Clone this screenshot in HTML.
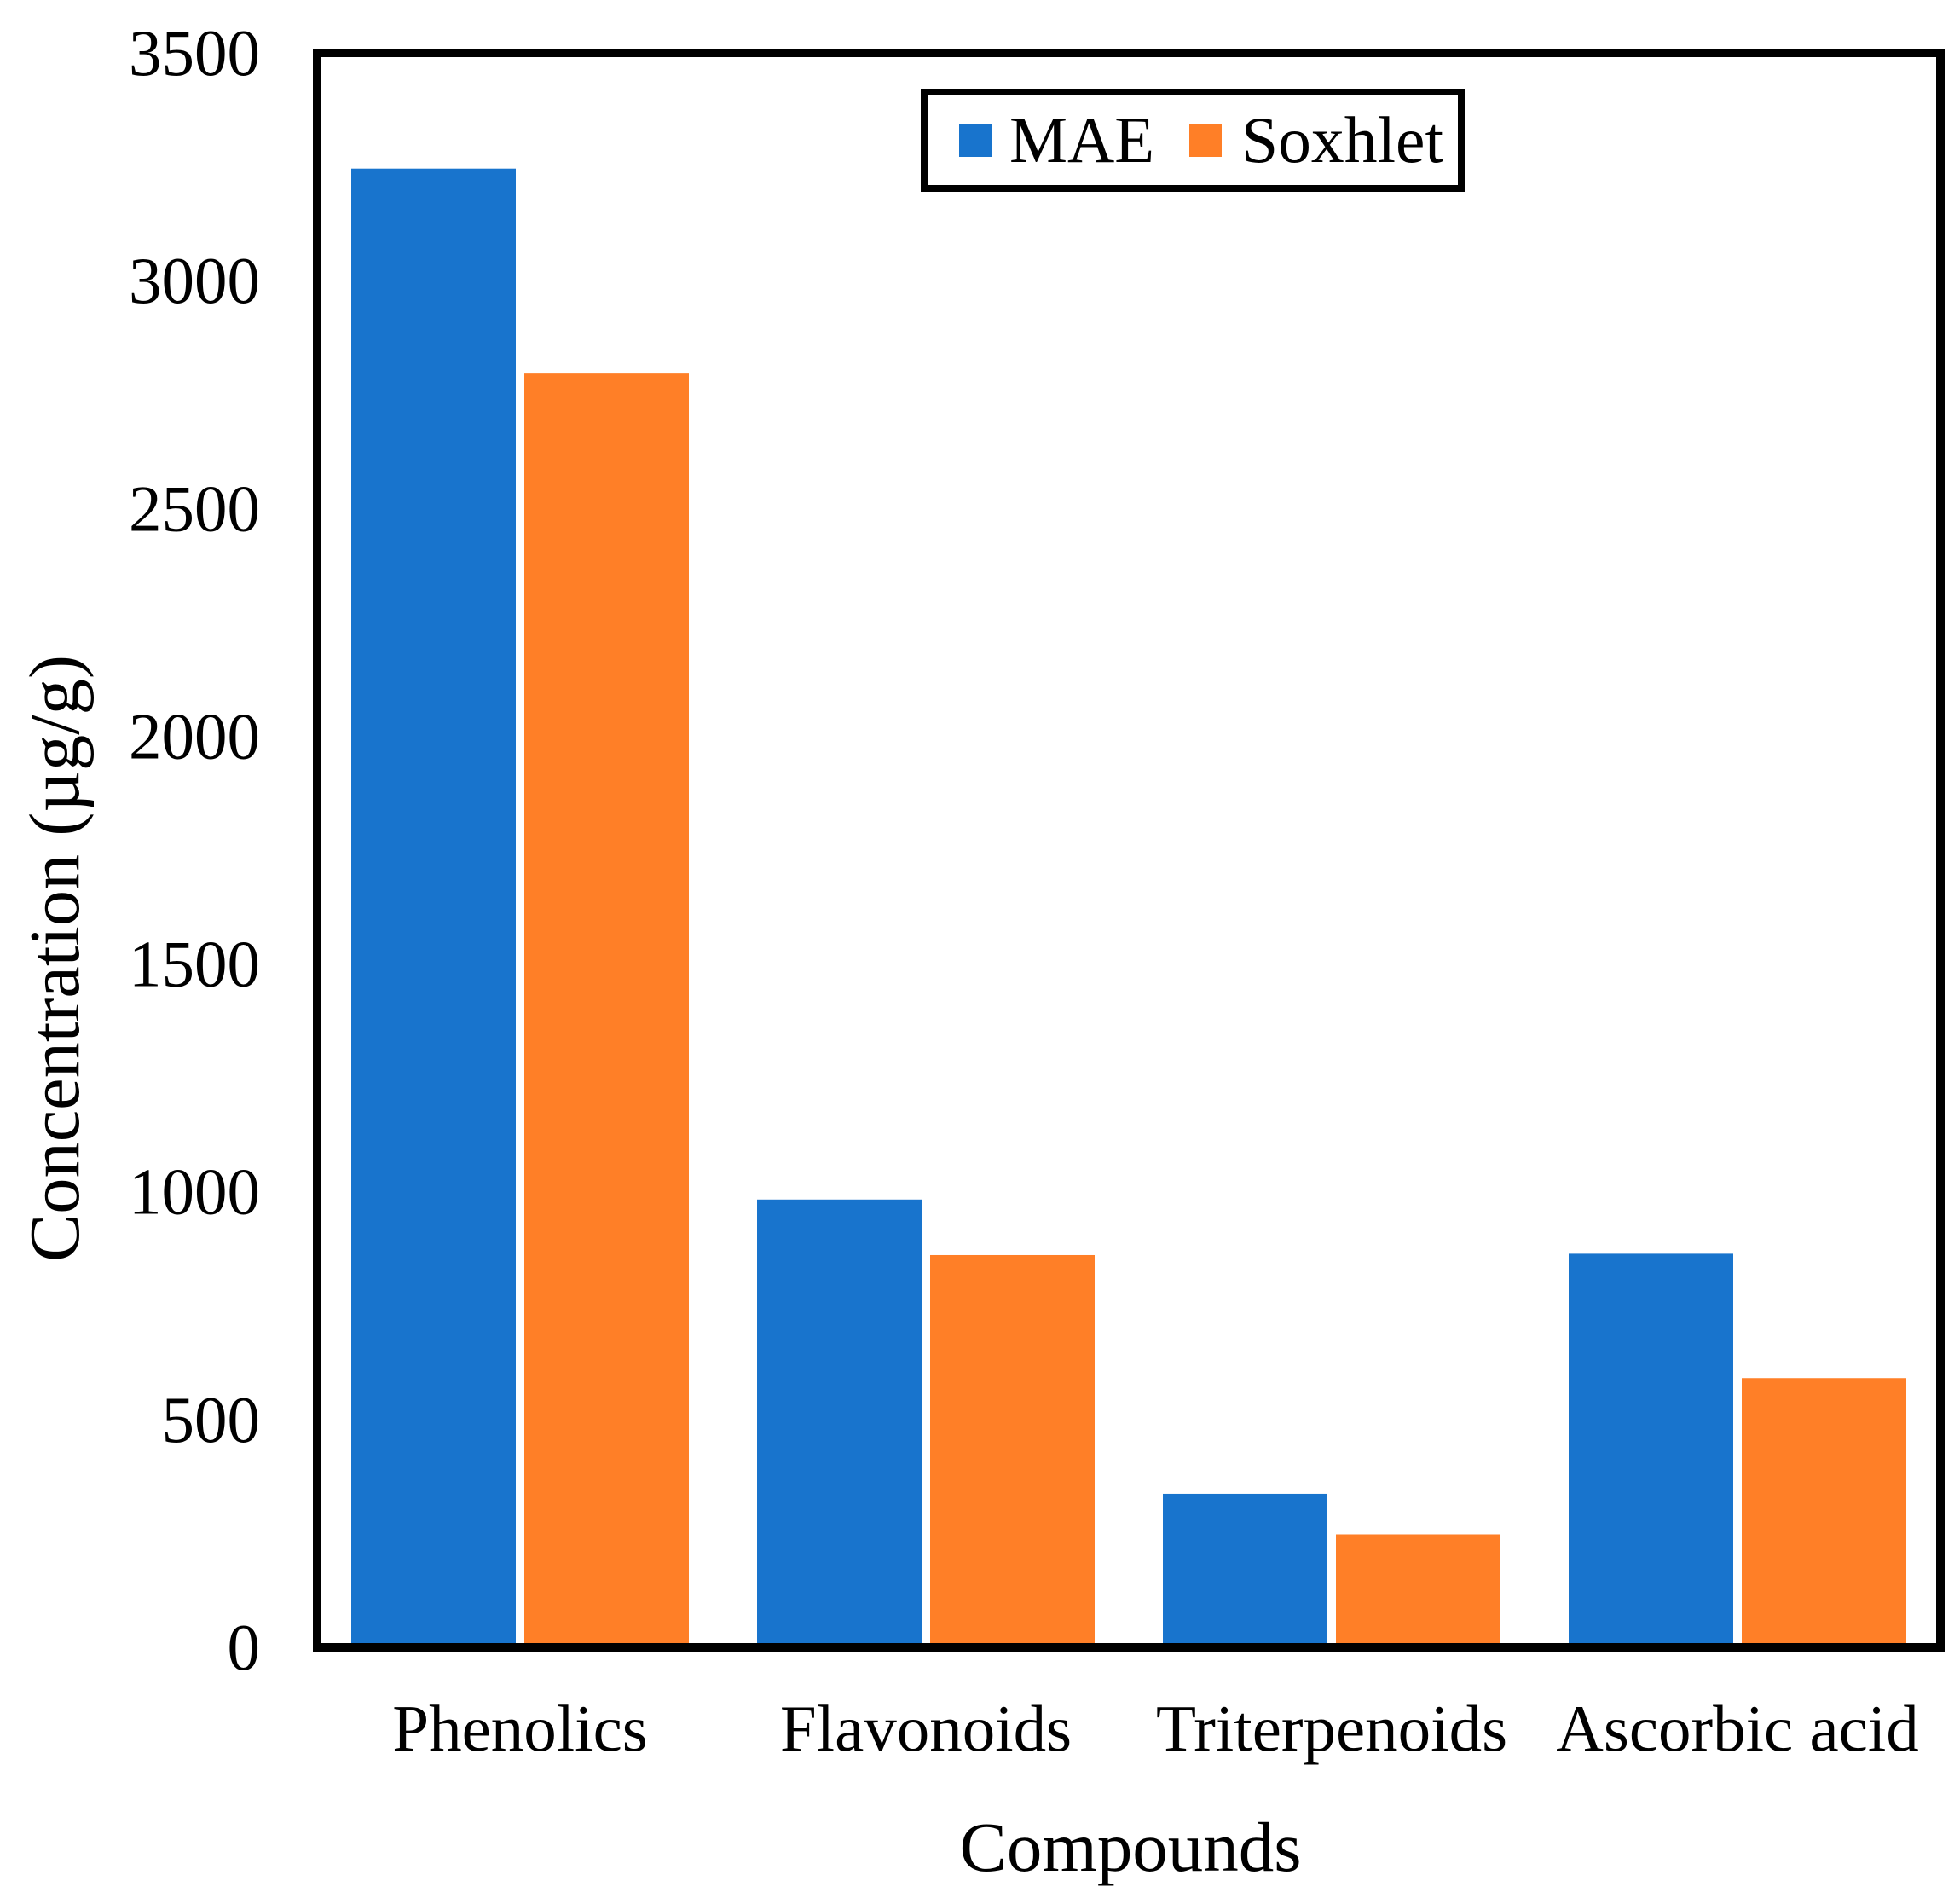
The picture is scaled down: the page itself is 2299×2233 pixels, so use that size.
<!DOCTYPE html>
<html><head><meta charset="utf-8"><style>
html,body{margin:0;padding:0;background:#fff;}
svg{display:block;font-family:"Liberation Serif",serif;}
</style></head><body>
<svg id="chart" width="2299" height="2233" viewBox="0 0 2299 2233" xmlns="http://www.w3.org/2000/svg">
<g id="bars"></g>
<g id="yticks"></g>
<g id="xlabels"></g>
<rect x="372" y="62" width="1904" height="1870" fill="none" stroke="#000" stroke-width="10"/>
<text x="1326" y="2194" font-size="83" text-anchor="middle" textLength="401" lengthAdjust="spacingAndGlyphs">Compounds</text>
<text transform="translate(92,1124) rotate(-90)" font-size="84" text-anchor="middle" textLength="712" lengthAdjust="spacingAndGlyphs">Concentration (µg/g)</text>
<g>
<rect x="1084" y="108" width="630" height="113" fill="#fff" stroke="#000" stroke-width="8"/>
<rect x="1125" y="145" width="38" height="39" fill="#1874CD"/>
<text x="1184" y="190" font-size="77" textLength="170" lengthAdjust="spacingAndGlyphs">MAE</text>
<rect x="1395" y="145" width="38" height="39" fill="#FF7F27"/>
<text x="1456" y="190" font-size="77" textLength="237" lengthAdjust="spacingAndGlyphs">Soxhlet</text>
</g>
</svg>
<script>
const categories = ["Phenolics", "Flavonoids", "Triterpenoids", "Ascorbic acid"];
const maeValues = [3246, 983, 337, 864];
const soxhletValues = [2796, 861, 248, 591];
const yTickValues = [0, 500, 1000, 1500, 2000, 2500, 3000, 3500];

const NS = "http://www.w3.org/2000/svg";
const plotLeft = 372, plotRight = 2276, plotTop = 62, plotBottom = 1932;
const yMax = 3500;
function yScale(v){ return plotBottom - (v / yMax) * (plotBottom - plotTop); }
const band = (plotRight - plotLeft) / categories.length;
function xBand(i){ return plotLeft + i * band; }
const barW = 193, gap = 10, pad = (band - 2*barW - gap) / 2;

const barsG = document.getElementById('bars');
function bar(x, v, color, name){
  const r = document.createElementNS(NS, 'rect');
  r.setAttribute('x', x);
  r.setAttribute('y', yScale(v));
  r.setAttribute('width', barW);
  r.setAttribute('height', plotBottom - yScale(v));
  r.setAttribute('fill', color);
  
  
  barsG.appendChild(r);
}
categories.forEach((c, i) => {
  const slug = c.toLowerCase().replace(/\s+/g, '-');
  bar(xBand(i) + pad, maeValues[i], '#1874CD', 'bar-mae-' + slug);
  bar(xBand(i) + pad + barW + gap, soxhletValues[i], '#FF7F27', 'bar-soxhlet-' + slug);
  const t = document.createElementNS(NS, 'text');
  t.setAttribute('x', xBand(i) + band/2);
  t.setAttribute('y', 2053);
  t.setAttribute('font-size', '77');
  t.setAttribute('text-anchor', 'middle');
  t.textContent = c;
  
  
  document.getElementById('xlabels').appendChild(t);
});
yTickValues.forEach(v => {
  const t = document.createElementNS(NS, 'text');
  t.setAttribute('x', 305);
  t.setAttribute('y', yScale(v) + 26);
  t.setAttribute('font-size', '77');
  t.setAttribute('text-anchor', 'end');
  t.textContent = v;
  
  
  document.getElementById('yticks').appendChild(t);
});
</script>
</body></html>
